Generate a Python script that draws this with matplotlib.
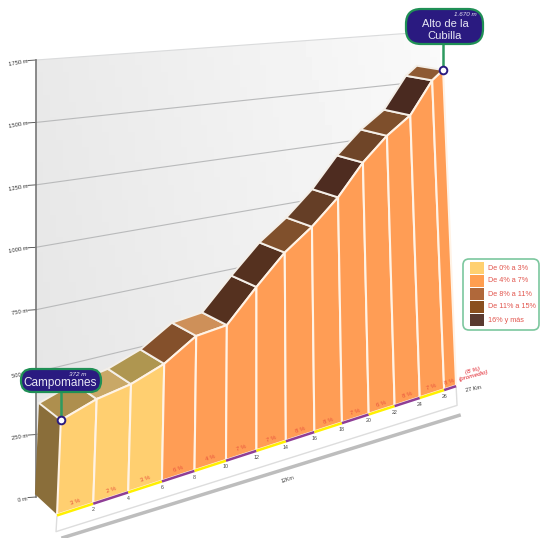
import numpy as np
import matplotlib
matplotlib.use('Agg')
import matplotlib.pyplot as plt
from matplotlib.patches import Polygon, FancyBboxPatch, Rectangle

plt.rcParams['font.family'] = ['Liberation Sans', 'DejaVu Sans']

# ====================== DATA ======================
km = [0, 2, 4, 6, 8, 10, 12, 14, 16, 18, 20, 22, 24, 26, 27]
altitude = [372, 418, 442, 491, 577, 591, 733, 865, 962, 1082, 1236, 1355, 1445, 1620, 1670]
gradient = [3, 2, 3, 6, 4, 7, 7, 8, 8, 7, 6, 8, 7, 8]
km_labels = ['2', '4', '6', '8', '10', '12', '14', '16', '18', '20', '22', '24', '26']
alt_ticks = [0, 250, 500, 750, 1000, 1250, 1500, 1750]

YELLOW = '#FFCF70'
ORANGE = '#FF9D55'
body_colors = [YELLOW] * 3 + [ORANGE] * 11
cap_colors = ['#AE8F4E', '#C9A867', '#AF9650', '#84502B', '#CE9059', '#55311F', '#55311F',
              '#80502C', '#653E26', '#4E2C20', '#6F4528', '#7E4F2C', '#4A2A20', '#8E5A33']
strip_colors = ['#FFF000', '#8E3E96'] * 7

legend_labels = ['De 0% a 3%', 'De 4% a 7%', 'De 8% a 11%', 'De 11% a 15%', '16% y más']
legend_colors = ['#FFD070', '#FF9E50', '#B0683A', '#8A4F1E', '#5A3A30']

# ====================== PROJECTION ======================
# km, metres, depth (0 = front of the profile, 1 = back of the caps) -> picture pixels
calib_3d = [(0, 0, 0), (27, 0, 0), (0, 372, 0), (27, 1670, 0), (0, 372, 1), (27, 1670, 1),
            (0, 0, 1), (12, 0, 0), (4, 0, 0), (22, 0, 0),
            (8, 577, 1), (14, 865, 1), (22, 1359, 1), (24, 1455, 1)]
calib_px = [(57, 515), (457, 385), (60, 419), (444, 71), (39, 401), (418, 66),
            (37, 497), (257, 450), (128, 492), (393, 405),
            (172, 323), (258, 242), (360, 128), (383, 108)]
# the back wall is wider than the caps, so it gets its own mapping (t = 0..1 across, metres)
wall_2d = [(0, 0), (0, 1750), (1, 1750), (1, 0)]
wall_px = [(36, 497), (36, 60), (440, 31), (440, 372)]


def fit_camera():
    rows, rhs = [], []
    for (k, a, d), (u, v) in zip(calib_3d, calib_px):
        p = [k / 27, a / 1000, d, 1]
        rows.append(p + [0, 0, 0, 0] + [-u * c for c in p[:3]])
        rows.append([0, 0, 0, 0] + p + [-v * c for c in p[:3]])
        rhs += [u, v]
    sol = np.linalg.lstsq(np.array(rows, float), np.array(rhs, float), rcond=None)[0]
    return np.append(sol, 1).reshape(3, 4)


def fit_wall():
    rows, rhs = [], []
    for (t, a), (u, v) in zip(wall_2d, wall_px):
        p = [t, a / 1000, 1]
        rows.append(p + [0, 0, 0] + [-u * c for c in p[:2]])
        rows.append([0, 0, 0] + p + [-v * c for c in p[:2]])
        rhs += [u, v]
    return np.append(np.linalg.solve(np.array(rows, float), np.array(rhs, float)), 1).reshape(3, 3)


CAM = fit_camera()
WALL = fit_wall()


def project(k, a, d=0):
    u, v, w = CAM @ np.array([k / 27, a / 1000, d, 1])
    return u / w, v / w


def on_wall(t, a):
    u, v, w = WALL @ np.array([t, a / 1000, 1])
    return u / w, v / w


# ====================== FIGURE ======================
fig = plt.figure(figsize=(5.41, 5.38), dpi=100)
ax = fig.add_axes([0, 0, 1, 1])
ax.axis('off')

# back wall
wall = Polygon([on_wall(0, 0), on_wall(1, 0), on_wall(1, 1750), on_wall(0, 1750)],
               closed=True, facecolor='none', edgecolor='none')
ax.add_patch(wall)
shade = np.linspace(0.895, 0.96, 64).reshape(1, -1) + np.linspace(0, 0.02, 64).reshape(-1, 1)[::-1]
img = ax.imshow(shade, extent=(30, 450, 500, 20), cmap='gray', vmin=0, vmax=1, aspect='auto', zorder=1)
img.set_clip_path(wall)
ax.set_xlim(0, 541)
ax.set_ylim(538, 0)

for a in alt_ticks:
    x0, y0 = on_wall(0, a)
    x1, y1 = on_wall(1, a)
    if a > 0:
        col = '#DADBDC' if a == 1750 else '#B9BABB'
        ax.plot([x0, x1], [y0, y1], color=col, lw=0.8, zorder=2)
    ax.plot([x0 - 8, x0], [y0 + 0.5, y0], color='#444444', lw=0.6, zorder=2)
    ax.text(x0 - 8, y0 + 2.5, f'{a} m', fontsize=4.2, color='#333333', rotation=10,
            ha='right', va='center', zorder=2)
x0, y0 = on_wall(0, 1750)
x1, y1 = on_wall(0, 0)
ax.plot([x0, x1], [y0, y1], color='#777777', lw=1.2, zorder=2)

# base plate and its shadow
bl = project(km[0], 0)
br = project(km[-1], 0)
ax.plot([bl[0], bl[0] - 1, br[0] + 1, br[0]], [bl[1], bl[1] + 17, br[1] + 20, br[1]],
        color='#DDDDDD', lw=1, zorder=2)
ax.plot([bl[0] + 6, br[0] + 3], [bl[1] + 23, br[1] + 30], color='#BDBDBD', lw=2.5, zorder=2)

# left side of the block
ax.add_patch(Polygon([project(0, 0), project(0, altitude[0]), project(0, altitude[0], 1), project(0, 0, 1)],
                     closed=True, facecolor='#8A6E3A', edgecolor='none', zorder=3))

# one cap and one column for each stretch
for i in range(len(km) - 1):
    k0, k1 = km[i], km[i + 1]
    a0, a1 = altitude[i], altitude[i + 1]
    ax.add_patch(Polygon([project(k0, a0), project(k1, a1), project(k1, a1, 1), project(k0, a0, 1)],
                         closed=True, facecolor=cap_colors[i], edgecolor='#F4EFE8', lw=1.4, zorder=4))
for i in range(len(km) - 1):
    k0, k1 = km[i], km[i + 1]
    a0, a1 = altitude[i], altitude[i + 1]
    ax.add_patch(Polygon([project(k0, 0), project(k0, a0), project(k1, a1), project(k1, 0)],
                         closed=True, facecolor=body_colors[i], edgecolor='#FFF3E6', lw=1.5, zorder=5))
    s0, s1 = project(k0, 0), project(k1, 0)
    ax.plot([s0[0], s1[0]], [s0[1] + 0.8, s1[1] + 0.8], color=strip_colors[i], lw=1.8,
            solid_capstyle='butt', zorder=6)
    mid = project((k0 + k1) / 2, 28)
    angle = np.degrees(np.arctan2(s0[1] - s1[1], s1[0] - s0[0]))
    ax.text(mid[0], mid[1], f'{gradient[i]} %', fontsize=4.3, color='#E8503C', rotation=angle,
            ha='center', va='center', zorder=7)

for k, lab in zip(km[1:-1], km_labels):
    x, y = project(k, 0)
    ax.text(x, y + 7, lab, fontsize=3.8, color='#444444', ha='center', va='center', zorder=7)

# texts at the right end and under the base
ax.text(473, 373, '(8 %)\n(promedio)', fontsize=4.6, color='#E0202A', rotation=15,
        ha='center', va='center', linespacing=0.9, style='italic', zorder=7)
ax.text(473, 389, '27 Km', fontsize=4, color='#333333', rotation=12, ha='center', va='center')
ax.text(288, 479, '12Km', fontsize=3.8, color='#444444', rotation=18, ha='center', va='center')


# ====================== CALLOUTS ======================
def callout(k, a, box, label, height_label, label_xy, height_xy, size, radius):
    mx, my = project(k, a)
    x, y, w, h = box
    ax.plot([mx, mx], [my, y + h / 2], color='#2E9A60', lw=1.8, zorder=8)
    ax.add_patch(FancyBboxPatch((x, y), w, h,
                                boxstyle=f'round,pad=0,rounding_size={radius}',
                                facecolor='#2A1A80', edgecolor='#1F8F55', lw=1.6, zorder=9))
    ax.plot(mx, my, 'o', ms=5.5, mfc='white', mec='#2A1A80', mew=1.4, zorder=10)
    ax.text(label_xy[0], label_xy[1], label, color='#E8E8F4', fontsize=size, ha='center', va='center',
            linespacing=1.35, zorder=10)
    ax.text(height_xy[0], height_xy[1], height_label, color='#E8E8F4', fontsize=4.5, style='italic',
            ha='center', va='center', zorder=10)


callout(km[0], altitude[0], (21, 369, 80, 23), 'Campomanes', '372 m', (60, 383), (78, 375), 8.5, 11)
callout(km[-1], altitude[-1], (406, 9, 77, 35), 'Alto de la\nCubilla', '1.670 m', (445, 30), (465, 15), 8, 15)

# ====================== LEGEND ======================
ax.add_patch(FancyBboxPatch((463, 259), 76, 71, boxstyle='round,pad=0,rounding_size=6',
                            facecolor='white', edgecolor='#7CC79E', lw=1.2, zorder=8))
for i, (lab, col) in enumerate(zip(legend_labels, legend_colors)):
    yc = 268 + i * 13
    ax.add_patch(Rectangle((470, yc - 6), 14, 12, facecolor=col, edgecolor='none', zorder=9))
    ax.text(488, yc, lab, fontsize=5.2, color='#E2564E', ha='left', va='center', zorder=9)

fig.savefig('out.png', dpi=100)
